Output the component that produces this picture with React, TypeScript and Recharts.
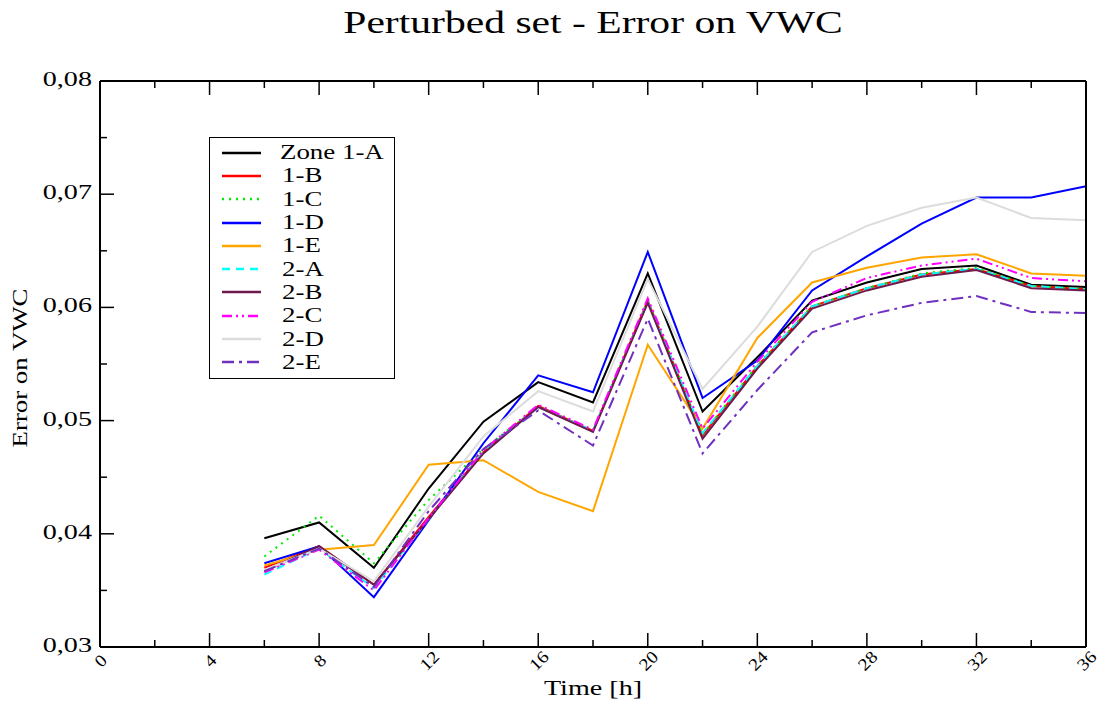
import React from 'react'
import { LineChart, Line, XAxis, YAxis, Legend } from 'recharts'

const hours = [6, 8, 10, 12, 14, 16, 18, 20, 22, 24, 26, 28, 30, 32, 34, 36]

const zone1A = [0.0396, 0.0410, 0.0370, 0.0440, 0.0499, 0.0534, 0.0516, 0.0630, 0.0508, 0.0556, 0.0606, 0.0622, 0.0634, 0.0637, 0.0620, 0.0618]
const zone1B = [0.0370, 0.0389, 0.0355, 0.0415, 0.0472, 0.0513, 0.0491, 0.0606, 0.0487, 0.0548, 0.0601, 0.0617, 0.0629, 0.0634, 0.0619, 0.0616]
const zone1C = [0.0380, 0.0416, 0.0374, 0.0430, 0.0475, 0.0512, 0.0491, 0.0606, 0.0488, 0.0549, 0.0601, 0.0617, 0.0630, 0.0635, 0.0619, 0.0616]
const zone1D = [0.0374, 0.0389, 0.0344, 0.0412, 0.0480, 0.0540, 0.0525, 0.0649, 0.0520, 0.0553, 0.0615, 0.0645, 0.0674, 0.0697, 0.0697, 0.0707]
const zone1E = [0.0372, 0.0386, 0.0390, 0.0461, 0.0465, 0.0437, 0.0420, 0.0567, 0.0493, 0.0573, 0.0622, 0.0635, 0.0644, 0.0647, 0.0630, 0.0628]
const zone2A = [0.0364, 0.0387, 0.0352, 0.0413, 0.0472, 0.0512, 0.0491, 0.0605, 0.0489, 0.0548, 0.0601, 0.0617, 0.0629, 0.0634, 0.0619, 0.0616]
const zone2B = [0.0367, 0.0389, 0.0355, 0.0413, 0.0471, 0.0512, 0.0490, 0.0604, 0.0484, 0.0546, 0.0599, 0.0615, 0.0627, 0.0633, 0.0617, 0.0615]
const zone2C = [0.0366, 0.0386, 0.0350, 0.0414, 0.0474, 0.0514, 0.0492, 0.0608, 0.0493, 0.0552, 0.0605, 0.0626, 0.0637, 0.0643, 0.0626, 0.0623]
const zone2D = [0.0368, 0.0387, 0.0358, 0.0424, 0.0486, 0.0526, 0.0508, 0.0625, 0.0528, 0.0583, 0.0649, 0.0672, 0.0688, 0.0697, 0.0679, 0.0677]
const zone2E = [0.0367, 0.0387, 0.0353, 0.0420, 0.0475, 0.0509, 0.0478, 0.0590, 0.0471, 0.0527, 0.0578, 0.0593, 0.0604, 0.0610, 0.0596, 0.0595]

const xTicks = [0, 2, 4, 6, 8, 10, 12, 14, 16, 18, 20, 22, 24, 26, 28, 30, 32, 34, 36]
const yTicks = [0.03, 0.035, 0.04, 0.045, 0.05, 0.055, 0.06, 0.065, 0.07, 0.075, 0.08]

const series = [
  { key: 'z1A', name: 'Zone 1-A', values: zone1A, color: '#000000', dash: undefined },
  { key: 'z1B', name: '1-B', values: zone1B, color: '#ff0000', dash: undefined },
  { key: 'z1C', name: '1-C', values: zone1C, color: '#00ee00', dash: '2 5' },
  { key: 'z1D', name: '1-D', values: zone1D, color: '#0000ff', dash: undefined },
  { key: 'z1E', name: '1-E', values: zone1E, color: '#ffa500', dash: undefined },
  { key: 'z2A', name: '2-A', values: zone2A, color: '#00ffff', dash: '8 6' },
  { key: 'z2B', name: '2-B', values: zone2B, color: '#6e1a4c', dash: undefined },
  { key: 'z2C', name: '2-C', values: zone2C, color: '#ff00ff', dash: '10 4 2 4 2 4' },
  { key: 'z2D', name: '2-D', values: zone2D, color: '#dcdcdc', dash: undefined },
  { key: 'z2E', name: '2-E', values: zone2E, color: '#7030c0', dash: '12 5 3 5' },
]

const data = hours.map((h, i) => {
  const row: Record<string, number> = { t: h }
  series.forEach(s => { row[s.key] = s.values[i] })
  return row
})

const serif = '"Liberation Serif", "DejaVu Serif", serif'
// the source picture is stretched sideways, so text gets a horizontal scale
const STRETCH = 1.28

const isMajorX = (v: number) => v % 4 === 0
const isMajorY = (v: number) => Math.round(v * 1000) % 10 === 0

// inward ticks, labels outside
function BottomTick({ x, y, payload }: any) {
  const major = isMajorX(payload.value)
  const ly = y + 15
  return (
    <g>
      <line x1={x} x2={x} y1={y} y2={y - (major ? 14 : 7)} stroke="#000" strokeWidth={1.5} />
      {major && (
        <text transform={`translate(${x + 2}, ${ly}) rotate(-45) scale(1.15, 1)`} textAnchor="middle"
          dominantBaseline="middle" fontFamily={serif} fontSize={17} fill="#000">
          {payload.value}
        </text>
      )}
    </g>
  )
}

function TopTick({ x, y, payload }: any) {
  const major = isMajorX(payload.value)
  return <line x1={x} x2={x} y1={y} y2={y + (major ? 14 : 7)} stroke="#000" strokeWidth={1.5} />
}

function LeftTick({ x, y, payload }: any) {
  const major = isMajorY(payload.value)
  return (
    <g>
      <line x1={x} x2={x + (major ? 14 : 7)} y1={y} y2={y} stroke="#000" strokeWidth={1.5} />
      {major && (
        <text transform={`translate(${x - 8}, ${y}) scale(${STRETCH}, 1)`} textAnchor="end"
          dominantBaseline="middle" fontFamily={serif} fontSize={22} fill="#000">
          {payload.value.toFixed(2).replace('.', ',')}
        </text>
      )}
    </g>
  )
}

function RightTick({ x, y, payload }: any) {
  const major = isMajorY(payload.value)
  return <line x1={x} x2={x - (major ? 14 : 7)} y1={y} y2={y} stroke="#000" strokeWidth={1.5} />
}

function XLabel({ viewBox }: any) {
  const cx = viewBox.x + viewBox.width / 2
  return (
    <text transform={`translate(${cx}, ${viewBox.y + 43}) scale(${STRETCH}, 1)`} textAnchor="middle"
      dominantBaseline="middle" fontFamily={serif} fontSize={22} fill="#000">
      Time [h]
    </text>
  )
}

function YLabel({ viewBox }: any) {
  const cy = viewBox.y + viewBox.height / 2
  return (
    <text transform={`translate(22, ${cy + 4}) rotate(-90) scale(1.22, 1)`} textAnchor="middle"
      dominantBaseline="middle" fontFamily={serif} fontSize={22} fill="#000">
      Error on VWC
    </text>
  )
}

function LegendBox() {
  return (
    <div style={{
      width: 186, height: 242, border: '1.5px solid #000', background: '#fff',
      boxSizing: 'border-box', padding: '3px 0 0 12px', fontFamily: serif, fontSize: 21,
    }}>
      {series.map(s => (
        <div key={s.key} style={{ display: 'flex', alignItems: 'center', height: 23.3 }}>
          <svg width={39} height={10} style={{ flexShrink: 0 }}>
            <line x1={0} x2={39} y1={5} y2={5} stroke={s.color} strokeWidth={2.5} strokeDasharray={s.dash} />
          </svg>
          <span style={{
            marginLeft: s.name.length > 3 ? 19 : 21, lineHeight: '21px', display: 'inline-block',
            transform: `scaleX(${STRETCH})`, transformOrigin: 'left center', whiteSpace: 'nowrap',
          }}>{s.name}</span>
        </div>
      ))}
    </div>
  )
}

export default function App() {
  return (
    <div style={{ position: 'absolute', left: 0, top: 0, width: 1106, height: 704, background: '#fff' }}>
      <div style={{
        position: 'absolute', left: 100, width: 986, top: 4, textAlign: 'center',
        fontFamily: serif, fontSize: 32, color: '#000', lineHeight: '36px',
        transform: 'scaleX(1.3)', transformOrigin: '493px center',
      }}>
        Perturbed set - Error on VWC
      </div>
      <LineChart width={1106} height={704} data={data}
        margin={{ top: 80, right: 19, bottom: 27, left: 0 }}>
        <XAxis dataKey="t" type="number" domain={[0, 36]} ticks={xTicks} interval={0} height={30}
          tickSize={0} tickMargin={0} tickLine={false} tick={<BottomTick />}
          axisLine={{ stroke: '#000', strokeWidth: 2 }}
          label={{ content: <XLabel /> }} />
        <XAxis xAxisId="top" orientation="top" dataKey="t" type="number" domain={[0, 36]} ticks={xTicks}
          interval={0} tickSize={0} tickMargin={0} tickLine={false} tick={<TopTick />} height={1}
          axisLine={{ stroke: '#000', strokeWidth: 2 }} />
        <YAxis type="number" domain={[0.03, 0.08]} ticks={yTicks} interval={0} width={100}
          tickSize={0} tickMargin={0} tickLine={false} tick={<LeftTick />}
          axisLine={{ stroke: '#000', strokeWidth: 2 }}
          label={{ content: <YLabel /> }} />
        <YAxis yAxisId="right" orientation="right" type="number" domain={[0.03, 0.08]} ticks={yTicks}
          interval={0} width={1} tickSize={0} tickMargin={0} tickLine={false} tick={<RightTick />}
          axisLine={{ stroke: '#000', strokeWidth: 2 }} />
        <Legend layout="vertical" align="center" verticalAlign="middle" content={<LegendBox />}
          wrapperStyle={{ left: 209, top: 137, width: 'auto' }} />
        {series.map(s => (
          <Line key={s.key} dataKey={s.key} name={s.name} stroke={s.color} strokeWidth={2}
            strokeDasharray={s.dash} dot={false} type="linear" isAnimationActive={false} />
        ))}
      </LineChart>
    </div>
  )
}
